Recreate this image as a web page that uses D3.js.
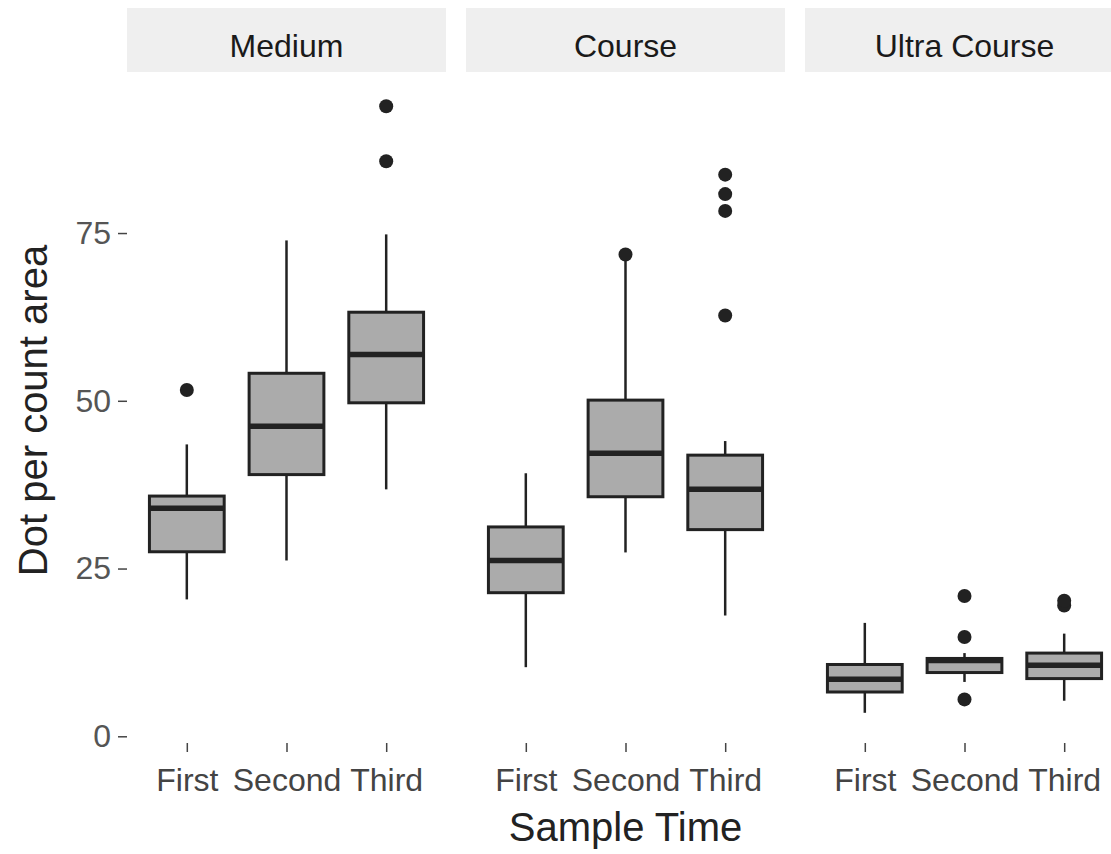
<!DOCTYPE html>
<html>
<head>
<meta charset="utf-8">
<script src="https://cdn.jsdelivr.net/npm/d3@7"></script>
<style>
  body { margin: 0; background: #fff; }
  svg text { font-family: "Liberation Sans", Arial, sans-serif; }
</style>
</head>
<body>
<svg id="chart" width="1111" height="854"></svg>
<script>
// facet and category labels
const facets = ["Medium", "Course", "Ultra Course"];
const times = ["First", "Second", "Third"];
const yTicks = [0, 25, 50, 75];

// box stats per facet, in order First / Second / Third
const whiskerLow  = [[20.4, 26.2, 36.8], [10.3, 27.4, 18.0], [3.5, 8.1, 5.3]];
const q1          = [[27.5, 39.0, 49.7], [21.4, 35.7, 30.8], [6.6, 9.5, 8.6]];
const median      = [[34.0, 46.2, 56.9], [26.2, 42.2, 36.8], [8.5, 11.3, 10.6]];
const q3          = [[35.8, 54.1, 63.2], [31.2, 50.1, 41.9], [10.7, 11.6, 12.4]];
const whiskerHigh = [[43.5, 73.9, 74.8], [39.2, 71.3, 44.0], [16.9, 12.4, 15.3]];
const outliers    = [[[51.6], [], [85.7, 93.9]],
                     [[], [71.8], [62.7, 78.3, 80.8, 83.7]],
                     [[], [5.5, 14.8, 20.9], [19.5, 20.2]]];

const svg = d3.select("#chart");
const panelLeft = 127, panelW = 319, panelGap = 20;
const panelTop = 72, panelBottom = 743;
const stripTop = 8;

const y = d3.scaleLinear().domain([-1, 99]).range([panelBottom, panelTop]);

// y axis
const yAxis = svg.append("g")
    .attr("transform", `translate(${panelLeft},0)`)
    .call(d3.axisLeft(y).tickValues(yTicks).tickSize(9).tickPadding(7));
yAxis.select(".domain").remove();
yAxis.selectAll("line").attr("stroke", "#444").attr("stroke-width", 1.5);
yAxis.selectAll("text").attr("font-size", 32).attr("fill", "#555")
    .attr("font-family", "Liberation Sans, Arial, sans-serif");

facets.forEach((f, i) => {
    const x0 = panelLeft + i * (panelW + panelGap);
    const x = d3.scalePoint().domain(times).range([x0, x0 + panelW]).padding(0.6);
    const boxW = x.step() * 0.75;

    // strip
    svg.append("rect")
        .attr("x", x0).attr("y", stripTop)
        .attr("width", panelW).attr("height", panelTop - stripTop)
        .attr("fill", "#efefef");
    svg.append("text")
        .attr("x", x0 + panelW / 2).attr("y", 57)
        .attr("text-anchor", "middle")
        .attr("font-size", 32).attr("fill", "#1a1a1a")
        .text(f);

    // x axis
    const xAxis = svg.append("g")
        .attr("transform", `translate(0,${panelBottom})`)
        .call(d3.axisBottom(x).tickSize(9).tickPadding(16));
    xAxis.select(".domain").remove();
    xAxis.selectAll("line").attr("stroke", "#444").attr("stroke-width", 1.5);
    xAxis.selectAll("text").attr("font-size", 32).attr("fill", "#444")
        .attr("font-family", "Liberation Sans, Arial, sans-serif");

    const g = svg.append("g");
    times.forEach((t, j) => {
        const cx = x(t);
        // whiskers
        g.append("line")
            .attr("x1", cx).attr("x2", cx)
            .attr("y1", y(whiskerHigh[i][j])).attr("y2", y(q3[i][j]))
            .attr("stroke", "#222").attr("stroke-width", 2.5);
        g.append("line")
            .attr("x1", cx).attr("x2", cx)
            .attr("y1", y(q1[i][j])).attr("y2", y(whiskerLow[i][j]))
            .attr("stroke", "#222").attr("stroke-width", 2.5);
        // box
        g.append("rect")
            .attr("x", cx - boxW / 2).attr("y", y(q3[i][j]))
            .attr("width", boxW).attr("height", y(q1[i][j]) - y(q3[i][j]))
            .attr("fill", "#ababab").attr("stroke", "#222").attr("stroke-width", 3);
        // median
        g.append("line")
            .attr("x1", cx - boxW / 2).attr("x2", cx + boxW / 2)
            .attr("y1", y(median[i][j])).attr("y2", y(median[i][j]))
            .attr("stroke", "#222").attr("stroke-width", 5.5);
        // outliers
        g.selectAll(null)
            .data(outliers[i][j])
            .enter().append("circle")
            .attr("cx", cx).attr("cy", d => y(d))
            .attr("r", 7)
            .attr("fill", "#222");
    });
});

// axis titles
const plotRight = panelLeft + 3 * panelW + 2 * panelGap;
svg.append("text")
    .attr("x", (panelLeft + plotRight) / 2).attr("y", 841)
    .attr("text-anchor", "middle")
    .attr("font-size", 40).attr("fill", "#222")
    .text("Sample Time");
svg.append("text")
    .attr("transform", `translate(47,${(panelTop + panelBottom) / 2 + 3}) rotate(-90)`)
    .attr("text-anchor", "middle")
    .attr("font-size", 40).attr("fill", "#222")
    .text("Dot per count area");
</script>
</body>
</html>
